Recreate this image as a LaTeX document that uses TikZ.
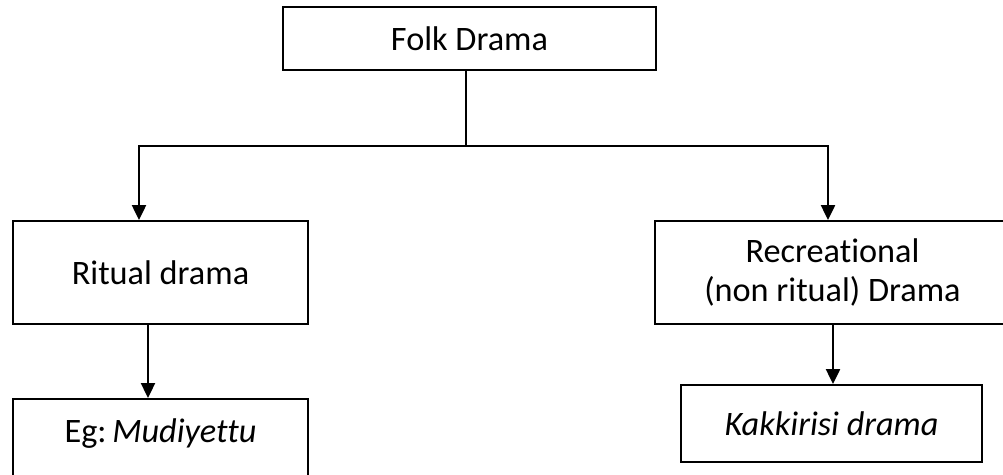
\documentclass[tikz,border=0pt]{standalone}
\usepackage{fontspec}
\setmainfont[Ligatures=NoCommon]{Carlito}
\usetikzlibrary{arrows.meta}
\tikzset{
  box/.style={draw, line width=1.1pt, rectangle, inner sep=0pt, align=center,
    font=\fontsize{19.5pt}{22pt}\selectfont},
  link/.style={line width=1.1pt},
  arr/.style={-{Triangle[length=8.5pt,width=8pt]}, line width=1.1pt}
}
\begin{document}
\begin{tikzpicture}[x=0.02cm, y=-0.02cm]
      \useasboundingbox (0,0) rectangle (1003,475);
      \node (folk)   [box, minimum width=7.46cm, minimum height=1.26cm] at (469.5,38.5) {Folk Drama};
      \node (ritual) [box, minimum width=5.9cm, minimum height=2.06cm] at (160.5,272.5) {Ritual drama};
      \node (rec)    [box, minimum width=7.1cm, minimum height=2.06cm] at (832.5,272.5) {Recreational\\(non ritual) Drama};
      \node (eg)     [box, anchor=north, minimum width=5.9cm, text height=25pt, text depth=22pt] at (160.5,398) {Eg:\,\textit{Mudiyettu}};
      \node (kak)    [box, minimum width=6.02cm, minimum height=1.54cm] at (831.5,423.5) {\textit{Kakkirisi drama}};
      \coordinate (jm) at (466,146);
      \coordinate (jl) at (139,146);
      \coordinate (jr) at (828,146);
      \draw [link]  (folk.south -| jm) -- (jm);
      \draw [link, line cap=rect] (jl) -- (jr);
      \draw [arr]   (jl) -- (jl |- ritual.north);
      \draw [arr]   (jr) -- (jr |- rec.north);
      \draw [arr]   ([xshift=-0.25cm]ritual.south) -- ([xshift=-0.25cm]ritual.south |- eg.north);
      \draw [arr]   ([xshift=0.01cm]rec.south) -- ([xshift=0.01cm]rec.south |- kak.north);
    \end{tikzpicture}
\end{document}
